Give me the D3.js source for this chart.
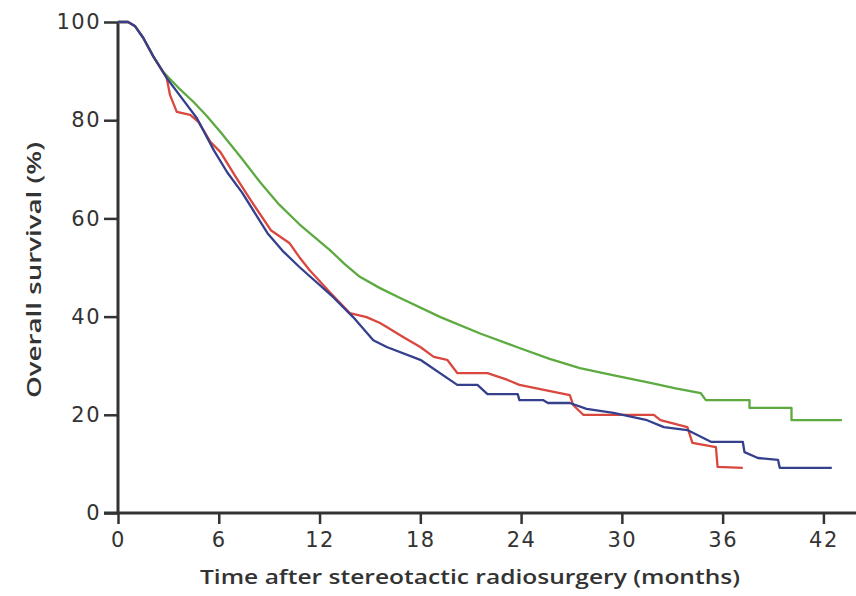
<!DOCTYPE html>
<html lang="en">
<head>
  <meta charset="UTF-8" />
  <title>Overall survival after stereotactic radiosurgery</title>
  <script src="https://d3js.org/d3.v7.min.js"></script>
  <style>
    body {
      margin: 0;
      background: #fff;
    }
    svg {
      display: block;
    }
    .tick-label {
      font-family: "DejaVu Sans", sans-serif;
      font-size: 21px;
      letter-spacing: 1.5px;
      fill: #333;
    }
    .axis-title {
      font-family: "Open Sans", sans-serif;
      font-size: 19px;
      font-weight: 600;
      fill: #333;
    }
  </style>
</head>
<body>
  <svg id="chart" width="856" height="596"></svg>

  <script>
    // tick values
    const xTicks = [0, 6, 12, 18, 24, 30, 36, 42];
    const yTicks = [0, 20, 40, 60, 80, 100];

    // [months, survival %]
    const greenCurve = [
      [0, 100], [0.6, 100], [1.0, 99.2], [1.5, 96.8], [2.1, 93.0], [2.7, 89.8],
      [3.6, 86.6], [4.5, 83.7], [5.3, 80.8], [6.1, 77.6], [7.3, 72.5],
      [8.5, 67.2], [9.6, 62.8], [10.8, 58.8], [11.7, 56.2], [12.6, 53.6],
      [13.5, 50.7], [14.4, 48.1], [15.6, 45.8], [16.8, 43.8], [19.2, 39.9],
      [21.6, 36.5], [23.9, 33.6], [25.7, 31.4], [27.5, 29.5], [29.6, 28.0],
      [31.7, 26.5], [33.2, 25.4], [34.7, 24.4], [35.0, 23.0], [37.6, 23.0],
      [37.6, 21.4], [40.1, 21.4], [40.1, 18.9], [43.1, 18.9]
    ];
    const redCurve = [
      [0, 100], [0.6, 100], [1.0, 99.2], [1.5, 96.8], [2.1, 93.0], [2.9, 88.6],
      [3.1, 85.1], [3.5, 81.7], [4.3, 81.1], [4.8, 79.6], [5.5, 75.6],
      [6.1, 73.5], [7.0, 68.5], [7.9, 63.7], [9.1, 57.6], [10.2, 55.0],
      [10.8, 52.1], [11.4, 49.5], [12.6, 45.0], [13.8, 40.7], [14.8, 39.9],
      [15.6, 38.7], [16.0, 37.9], [17.0, 35.8], [18.0, 33.8], [18.8, 31.8],
      [19.6, 31.2], [20.2, 28.5], [22.0, 28.5], [23.2, 27.1], [23.9, 26.1],
      [26.9, 24.0], [27.1, 22.0], [27.7, 20.0], [31.9, 20.0], [32.3, 18.9],
      [33.9, 17.5], [34.2, 14.3], [35.6, 13.4], [35.7, 9.4], [37.2, 9.2]
    ];
    const blueCurve = [
      [0, 100], [0.6, 100], [1.0, 99.2], [1.5, 96.8], [2.1, 93.0], [2.9, 88.6],
      [3.8, 84.5], [4.7, 80.4], [5.7, 73.9], [6.5, 69.4], [7.4, 65.2],
      [8.9, 57.0], [9.8, 53.4], [10.8, 50.1], [12.8, 44.0], [14.0, 39.9],
      [15.2, 35.2], [16.0, 33.8], [18.0, 31.2], [20.2, 26.1], [21.4, 26.1],
      [22.0, 24.2], [23.8, 24.2], [23.9, 23.0], [25.3, 23.0], [25.6, 22.4],
      [26.9, 22.4], [27.9, 21.2], [29.5, 20.4], [31.5, 18.9], [32.5, 17.5],
      [33.9, 16.9], [35.3, 14.5], [37.2, 14.5], [37.3, 12.4], [38.1, 11.2],
      [39.3, 10.8], [39.4, 9.2], [42.5, 9.2]
    ];

    const series = [
      { name: "green", color: "#5caa40", values: greenCurve },
      { name: "red", color: "#d9473f", values: redCurve },
      { name: "blue", color: "#34408c", values: blueCurve }
    ];

    const svg = d3.select("#chart");

    const x = d3.scaleLinear().domain([0, 44]).range([118, 857]);
    const y = d3.scaleLinear().domain([0, 100]).range([513, 22]);

    // y axis
    const yAxis = svg.append("g")
      .attr("transform", `translate(${x(0)},0)`)
      .call(d3.axisLeft(y).tickValues(yTicks).tickSize(14).tickPadding(3));

    // x axis
    const xAxis = svg.append("g")
      .attr("transform", `translate(0,${y(0)})`)
      .call(d3.axisBottom(x).tickValues(xTicks).tickSize(11).tickPadding(8));

    [xAxis, yAxis].forEach(ax => {
      ax.select(".domain")
        .attr("stroke", "#333")
        .attr("stroke-width", 3);
      ax.selectAll(".tick line")
        .attr("stroke", "#333")
        .attr("stroke-width", 2.5);
      ax.selectAll(".tick text")
        .attr("class", "tick-label")
        .attr("fill", null);
    });
    // plain lines without the d3 end caps
    xAxis.select(".domain").attr("d", `M${x(0) - 14},0H${x(44)}`);
    yAxis.select(".domain").attr("d", `M0,${y(100)}V${y(0)}`);

    // curves
    const line = d3.line()
      .x(d => x(d[0]))
      .y(d => y(d[1]));

    svg.append("g")
      .selectAll("path")
      .data(series)
      .join("path")
      .attr("fill", "none")
      .attr("stroke", d => d.color)
      .attr("stroke-width", 2.3)
      .attr("stroke-linejoin", "round")
      .attr("d", d => line(d.values));

    // axis titles
    svg.append("text")
      .attr("class", "axis-title")
      .attr("x", 470)
      .attr("y", 584)
      .attr("text-anchor", "middle")
      .attr("textLength", 540)
      .attr("lengthAdjust", "spacingAndGlyphs")
      .text("Time after stereotactic radiosurgery (months)");

    svg.append("text")
      .attr("class", "axis-title")
      .attr("transform", "translate(41,270) rotate(-90)")
      .attr("text-anchor", "middle")
      .attr("textLength", 256)
      .attr("lengthAdjust", "spacingAndGlyphs")
      .text("Overall survival (%)");
  </script>
</body>
</html>
